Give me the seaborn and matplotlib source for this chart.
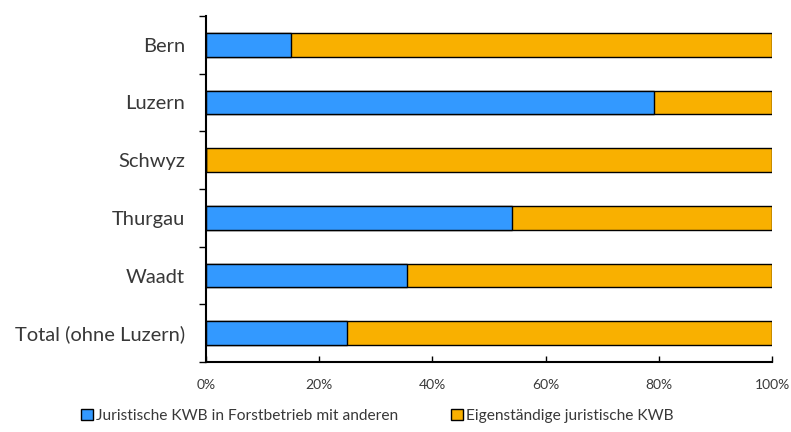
import matplotlib
matplotlib.use("Agg")
import matplotlib.pyplot as plt
import seaborn as sns
import pandas as pd
import numpy as np
from matplotlib.patches import Patch
from matplotlib.ticker import FixedLocator, PercentFormatter

categories = ["Bern", "Luzern", "Schwyz", "Thurgau", "Waadt", "Total (ohne Luzern)"]
blue_vals = [15.1, 79.2, 0.0, 54.0, 35.5, 25.0]
orange_vals = [100 - v for v in blue_vals]
series_names = ["Juristische KWB in Forstbetrieb mit anderen", "Eigenständige juristische KWB"]
x_ticks = [0, 20, 40, 60, 80, 100]

blue = "#3399FF"
orange = "#F9B000"

sns.set_style("white")
plt.rcParams["font.family"] = ["Lato", "DejaVu Sans"]

df = pd.DataFrame({"cat": categories, "blue": blue_vals,
                   "total": [b + o for b, o in zip(blue_vals, orange_vals)]})

fig = plt.figure(figsize=(7.91, 4.32), dpi=100)
ax = fig.add_axes([0.2604, 0.162, 0.7156, 0.801])

sns.barplot(data=df, y="cat", x="total", color=orange, orient="h", ax=ax,
            width=0.41, edgecolor="black", linewidth=1, saturation=1)
sns.barplot(data=df, y="cat", x="blue", color=blue, orient="h", ax=ax,
            width=0.41, edgecolor="black", linewidth=1, saturation=1)

ax.set_xlim(0, 100)
ax.set_ylim(len(categories) - 0.5, -0.5)
ax.set_xlabel("")
ax.set_ylabel("")
ax.xaxis.set_major_locator(FixedLocator(x_ticks))
ax.xaxis.set_major_formatter(PercentFormatter(decimals=0))

for s in ["top", "right"]:
    ax.spines[s].set_visible(False)
for s in ["left", "bottom"]:
    ax.spines[s].set_color("black")
    ax.spines[s].set_linewidth(1.5)

ax.tick_params(axis="x", which="major", bottom=True, direction="in", length=4, width=1,
               colors="black", labelsize=10, labelcolor="#3a3a3a", pad=12)
ax.tick_params(axis="y", which="major", left=False, length=0, labelsize=14.5,
               labelcolor="#383838", pad=15)
ax.yaxis.set_minor_locator(FixedLocator(np.arange(-0.5, len(categories), 1.0)))
ax.tick_params(axis="y", which="minor", left=True, direction="out", length=5, width=1,
               color="black")

handles = [Patch(facecolor=blue, edgecolor="black", linewidth=1),
           Patch(facecolor=orange, edgecolor="black", linewidth=1)]
fig.legend(handles, series_names, loc="center", bbox_to_anchor=(0.477, 0.037), ncol=2,
           frameon=False, fontsize=11.2, handlelength=0.75, handleheight=0.75,
           handletextpad=0.2, columnspacing=3.4, labelcolor="#383838")

fig.savefig("out.png", dpi=100)
